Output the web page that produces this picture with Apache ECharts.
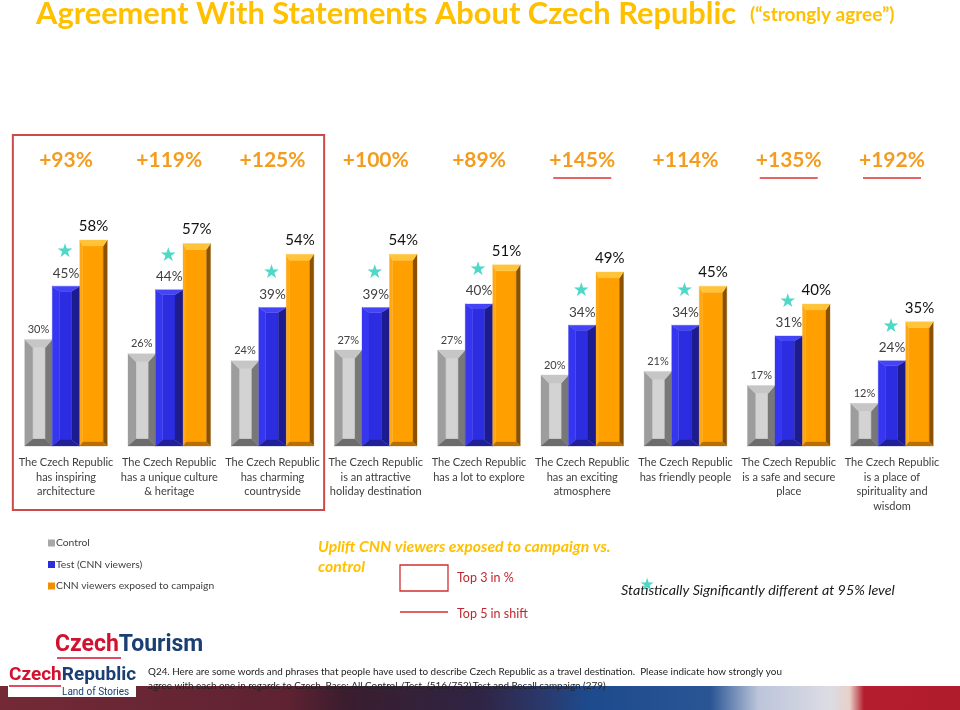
<!DOCTYPE html>
<html><head><meta charset="utf-8">
<script src="https://cdn.jsdelivr.net/npm/echarts@6/dist/echarts.min.js"></script>
<style>html,body{margin:0;padding:0;background:#fff}#c{width:960px;height:710px}</style>
</head><body><div id="c"></div>
<script>
// ---------- data ----------
const categories = [
  'The Czech Republic\nhas inspiring\narchitecture',
  'The Czech Republic\nhas a unique culture\n& heritage',
  'The Czech Republic\nhas charming\ncountryside',
  'The Czech Republic\nis an attractive\nholiday destination',
  'The Czech Republic\nhas a lot to explore',
  'The Czech Republic\nhas an exciting\natmosphere',
  'The Czech Republic\nhas friendly people',
  'The Czech Republic\nis a safe and secure\nplace',
  'The Czech Republic\nis a place of\nspirituality and\nwisdom'
];
const seriesNames = ['Control', 'Test (CNN viewers)', 'CNN viewers exposed to campaign'];
const control = [30, 26, 24, 27, 27, 20, 21, 17, 12];
const test = [45, 44, 39, 39, 40, 34, 34, 31, 24];
const exposed = [58, 57, 54, 54, 51, 49, 45, 40, 35];
const upliftLabels = ['+93%', '+119%', '+125%', '+100%', '+89%', '+145%', '+114%', '+135%', '+192%'];
const significantTest = [true, true, true, true, true, true, true, true, true];
const top3InPct = [0, 1, 2];
const top5InShift = [5, 7, 8];

// ---------- styles ----------
const FONT = 'Lato, "Open Sans", sans-serif';
const palettes = [
  {left:'#9d9d9d', center:'#d3d3d3', right:'#787878', top:'#c6c6c6', bottom:'#6c6c6c', bl:8, br:7, bt:8, bb:7,
   legend:'#a8a8a8', labelColor:'#404040', labelSize:11, labelOffset:10, labelWeight:'normal'},
  {left:'#3636f0', center:'#2c2ce0', right:'#1c1c90', top:'#4444f6', bottom:'#20209a', bl:7, br:8, bt:5, bb:6,
   legend:'#2c2ce0', labelColor:'#404040', labelSize:13.5, labelOffset:13, labelWeight:'normal'},
  {left:'#ffa812', center:'#ffa000', right:'#8a5200', top:'#ffc43a', bottom:'#b86e00', bl:3, br:4, bt:6, bb:4,
   legend:'#f09000', labelColor:'#111111', labelSize:15, labelOffset:14, labelWeight:'normal'}
];
const seriesData = [control, test, exposed];

function makeRender(k) {
  const pal = palettes[k];
  return function (params, api) {
    const i = api.value(0), v = api.value(1);
    const c = api.coord([i, 0]);
    const t = api.coord([i, v]);
    const band = api.size([1, 0])[0];
    const w = band * 0.2665;
    const x0 = c[0] + (k - 1.5) * w, x1 = x0 + w;
    const y0 = t[1], y1 = c[1];
    const h = y1 - y0;
    const bl = pal.bl, br = pal.br, bt = Math.min(pal.bt, h / 2), bb = Math.min(pal.bb, h / 2);
    const poly = (pts, fill) => ({type: 'polygon', shape: {points: pts}, style: {fill: fill, stroke: fill, lineWidth: 0.3}, silent: true});
    const children = [
      poly([[x0 + bl, y0 + bt], [x1 - br, y0 + bt], [x1 - br, y1 - bb], [x0 + bl, y1 - bb]], pal.center),
      poly([[x0, y0], [x0 + bl, y0 + bt], [x0 + bl, y1 - bb], [x0, y1]], pal.left),
      poly([[x1, y0], [x1, y1], [x1 - br, y1 - bb], [x1 - br, y0 + bt]], pal.right),
      poly([[x0, y0], [x1, y0], [x1 - br, y0 + bt], [x0 + bl, y0 + bt]], pal.top),
      poly([[x0, y1], [x0 + bl, y1 - bb], [x1 - br, y1 - bb], [x1, y1]], pal.bottom),
      {type: 'text', silent: true, style: {text: v + '%', x: (x0 + x1) / 2, y: y0 - pal.labelOffset,
        align: 'center', verticalAlign: 'middle', fill: pal.labelColor,
        fontSize: pal.labelSize, fontFamily: FONT, fontWeight: pal.labelWeight}}
    ];
    if (k === 1 && significantTest[i]) {
      children.push({type: 'text', silent: true, style: {text: '★', x: (x0 + x1) / 2 - 1, y: y0 - 34,
        align: 'center', verticalAlign: 'middle', fill: '#4fd8c8', fontSize: 19, fontFamily: 'DejaVu Sans'}});
    }
    return {type: 'group', children: children};
  };
}

const chart = echarts.init(document.getElementById('c'), null, {renderer: 'canvas'});
chart.setOption({
  animation: false,
  backgroundColor: '#ffffff',
  grid: {left: 14.4, right: 16.4, top: 170, bottom: 264},
  legend: {
    orient: 'vertical', left: 43, top: 531, itemWidth: 7, itemHeight: 7, itemGap: 7.5,
    icon: 'rect', selectedMode: false,
    textStyle: {fontSize: 10.3, color: '#404040', fontFamily: FONT, lineHeight: 14, padding: [0, 0, 0, -4]},
    data: seriesNames
  },
  xAxis: [
    {type: 'category', data: categories, axisLine: {show: false}, axisTick: {show: false},
     axisLabel: {interval: 0, margin: 9, color: '#404040', fontFamily: FONT, fontSize: 11, lineHeight: 14.7}},
    {type: 'category', position: 'top', data: upliftLabels, axisLine: {show: false}, axisTick: {show: false},
     axisLabel: {interval: 0, margin: -1, color: '#f39c1f', fontFamily: FONT, fontSize: 21, fontWeight: 'bold'}}
  ],
  yAxis: {type: 'value', min: 0, max: 77.7, show: false},
  series: seriesData.map((arr, k) => ({
    type: 'custom', name: seriesNames[k], renderItem: makeRender(k),
    itemStyle: {color: palettes[k].legend},
    encode: {x: 0, y: 1},
    data: arr.map((v, i) => [i, v])
  }))
});

// ---------- annotations ----------
const grid = chart.getModel().getComponent('grid').coordinateSystem.getRect();
const cx = i => chart.convertToPixel({xAxisIndex: 0}, i);
const bandW = grid.width / categories.length;
const g = [];
// bottom band
g.push({type: 'rect', z: 1, silent: true, shape: {x: 0, y: 686, width: 960, height: 24},
  style: {fill: new echarts.graphic.LinearGradient(0, 0, 1, 0, [
    {offset: 0, color: '#742a36'}, {offset: 0.3, color: '#5e2232'}, {offset: 0.36, color: '#3a1d2e'},
    {offset: 0.5, color: '#2f2444'}, {offset: 0.57, color: '#2a3a6e'}, {offset: 0.61, color: '#1d4a8c'},
    {offset: 0.74, color: '#2a5595'}, {offset: 0.79, color: '#bcc5da'}, {offset: 0.865, color: '#dcdce4'},
    {offset: 0.885, color: '#e8d0c8'}, {offset: 0.9, color: '#b41d2d'}, {offset: 1, color: '#b01c2c'}])}});
// title
g.push({type: 'text', z: 5, silent: true, left: 36, top: -1, style: {
  text: '{a|Agreement With Statements About Czech Republic}{s|}{b|(“strongly agree”)}',
  rich: {a: {fontSize: 30.8, fontWeight: 'bold', fill: '#ffc000', fontFamily: FONT},
         s: {width: 14},
         b: {fontSize: 19, fontWeight: 'bold', fill: '#ffc000', fontFamily: FONT}}}});
// red box around top 3 in %
const bx0 = cx(top3InPct[0]) - bandW * 0.515, bx1 = cx(top3InPct[top3InPct.length - 1]) + bandW * 0.5;
g.push({type: 'rect', z: 5, silent: true, shape: {x: bx0, y: 135, width: bx1 - bx0, height: 375},
  style: {fill: 'none', stroke: '#cc4a4a', lineWidth: 2}});
// underlines top 5 in shift
top5InShift.forEach(i => {
  const x = cx(i);
  g.push({type: 'line', z: 5, silent: true, shape: {x1: x - 29, y1: 178, x2: x + 29, y2: 178},
    style: {stroke: '#e03030', lineWidth: 1.5}});
});
// uplift legend
g.push({type: 'text', z: 5, silent: true, left: 318, top: 537, style: {
  text: 'Uplift CNN viewers exposed to campaign vs.\ncontrol', fill: '#ffc000', fontSize: 15.8,
  fontStyle: 'italic', fontWeight: 'bold', fontFamily: FONT, lineHeight: 20}});
g.push({type: 'rect', z: 5, silent: true, shape: {x: 400, y: 565, width: 48, height: 26},
  style: {fill: 'none', stroke: '#d03030', lineWidth: 1.3}});
g.push({type: 'text', z: 5, silent: true, left: 457, top: 571, style: {text: 'Top 3 in %', fill: '#c0282d', fontSize: 12.5, fontFamily: FONT}});
g.push({type: 'line', z: 5, silent: true, shape: {x1: 400, y1: 612, x2: 448, y2: 612}, style: {stroke: '#d03030', lineWidth: 1.3}});
g.push({type: 'text', z: 5, silent: true, left: 457, top: 607, style: {text: 'Top 5 in shift', fill: '#c0282d', fontSize: 12.5, fontFamily: FONT}});
// significance note
g.push({type: 'text', z: 5, silent: true, left: 621, top: 583, style: {
  text: 'Statistically Significantly different at 95% level', fill: '#1a1a1a', fontSize: 14.3,
  fontStyle: 'italic', fontFamily: FONT}});
g.push({type: 'text', z: 6, silent: true, style: {text: '★', x: 647, y: 586, align: 'center', verticalAlign: 'middle',
  fill: '#4fd8c8', fontSize: 17, fontFamily: 'DejaVu Sans'}});
// logos
g.push({type: 'text', z: 5, silent: true, left: 55, top: 634, style: {
  text: '{r|Czech}{b|Tourism}',
  rich: {r: {fill: '#d2112f', fontSize: 23, fontWeight: 'bold', fontFamily: 'Roboto'},
         b: {fill: '#1b3f73', fontSize: 23, fontWeight: 'bold', fontFamily: 'Roboto'}}}});
g.push({type: 'line', z: 5, silent: true, shape: {x1: 57, y1: 658, x2: 121, y2: 658}, style: {stroke: '#d2112f', lineWidth: 1.5}});
g.push({type: 'rect', z: 4, silent: true, shape: {x: 8, y: 665, width: 128, height: 32}, style: {fill: '#ffffff'}});
g.push({type: 'text', z: 5, silent: true, left: 9, top: 666, style: {
  text: '{r|Czech}{b|Republic}',
  rich: {r: {fill: '#d2112f', fontSize: 19, fontWeight: 'bold', fontFamily: 'Roboto'},
         b: {fill: '#1b3f73', fontSize: 19, fontWeight: 'bold', fontFamily: 'Roboto'}}}});
g.push({type: 'line', z: 5, silent: true, shape: {x1: 9, y1: 686, x2: 61, y2: 686}, style: {stroke: '#d2112f', lineWidth: 1.5}});
g.push({type: 'text', z: 5, silent: true, left: 62, top: 687, style: {text: 'Land of Stories', fill: '#1b3f73', fontSize: 10, fontFamily: 'Roboto'}});
// footnote
g.push({type: 'text', z: 3, silent: true, left: 148, top: 665, style: {
  text: 'Q24. Here are some words and phrases that people have used to describe Czech Republic as a travel destination.  Please indicate how strongly you\nagree with each one in regards to Czech. Base: All Control /Test  (516/752),Test and Recall campaign (279)',
  fill: '#222222', fontSize: 9.9, fontFamily: FONT, lineHeight: 14}});

chart.setOption({graphic: g});
</script></body></html>
